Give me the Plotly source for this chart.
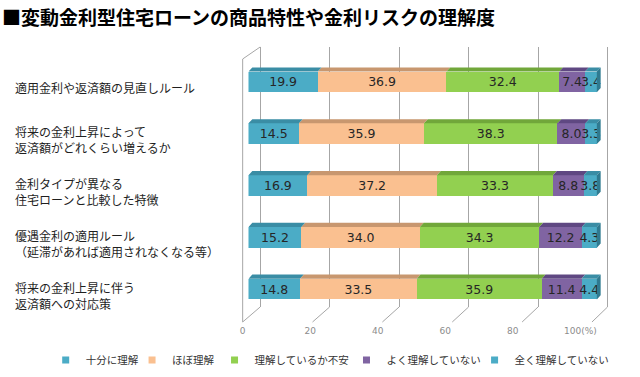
import numpy as np
import plotly.graph_objects as go

# ---------------- data ----------------
categories = [
    "適用金利や返済額の見直しルール",
    "将来の金利上昇によって<br>返済額がどれくらい増えるか",
    "金利タイプが異なる<br>住宅ローンと比較した特徴",
    "優遇金利の適用ルール<br>（延滞があれば適用されなくなる等）",
    "将来の金利上昇に伴う<br>返済額への対応策",
]
series_names = ["十分に理解", "ほぼ理解", "理解しているか不安", "よく理解していない", "全く理解していない"]
fully_understand = [19.9, 14.5, 16.9, 15.2, 14.8]
mostly_understand = [36.9, 35.9, 37.2, 34.0, 33.5]
unsure = [32.4, 38.3, 33.3, 34.3, 35.9]
not_well = [7.4, 8.0, 8.8, 12.2, 11.4]
not_at_all = [3.4, 3.3, 3.8, 4.3, 4.4]
tick_values = [0, 20, 40, 60, 80, 100]
tick_labels = ["0", "20", "40", "60", "80", "100(%)"]
title_text = "■変動金利型住宅ローンの商品特性や金利リスクの理解度"

# ---------------- style ----------------
W, H = 640, 377
face_colors = ["#4BACC6", "#FAC090", "#92D050", "#8064A2", "#4BACC6"]
top_colors = ["#3A8DA5", "#C8976F", "#71A73A", "#5F4882", "#3A8DA5"]
side_color = "#2F7A90"
grid_color = "#A6A6A6"
JP = "Noto Sans CJK JP"
legend_text_px = [81, 170, 255, 391, 523]   # where each legend text starts


def px(x):
    return x / W


def py(y):
    return 1 - y / H


series = [fully_understand, mostly_understand, unsure, not_well, not_at_all]
rows = np.arange(len(categories))
bar_w = 0.4
dx = 1.1      # depth offset (x units)
dy = 0.08     # depth offset (category units)

fig = go.Figure()

# gridline subplot (x / y) - drawn first, underneath
fig.add_trace(go.Scatter(x=[], y=[], xaxis="x", yaxis="y", showlegend=False, hoverinfo="skip"))
# tick-label subplot (x3 / y3)
fig.add_trace(go.Scatter(x=[], y=[], xaxis="x3", yaxis="y3", showlegend=False, hoverinfo="skip"))

# stacked bars (x2 / y2)
cum = np.zeros(len(categories))
for name, vals, fc, tc in zip(series_names, series, face_colors, top_colors):
    vals = np.array(vals)
    fig.add_trace(go.Bar(
        x=vals, y=rows, orientation="h", width=bar_w, name=name,
        marker=dict(color=fc, line=dict(width=0)),
        text=[f"{v:.1f}" for v in vals], textposition="inside", textangle=0,
        insidetextanchor="middle", constraintext="none",
        textfont=dict(family="DejaVu Sans", size=12.5, color="#262626"),
        xaxis="x2", yaxis="y2", showlegend=False, hoverinfo="skip",
    ))
    # top faces (3D look)
    xs, ys = [], []
    for i in rows:
        x0, x1 = cum[i], cum[i] + vals[i]
        yt = i - bar_w / 2
        xs += [x0, x1, x1 + dx, x0 + dx, x0, None]
        ys += [yt, yt, yt - dy, yt - dy, yt, None]
    fig.add_trace(go.Scatter(x=xs, y=ys, fill="toself", fillcolor=tc, mode="lines",
                             line=dict(width=0, color=tc), xaxis="x2", yaxis="y2",
                             showlegend=False, hoverinfo="skip"))
    cum = cum + vals

# right end faces
xs, ys = [], []
for i in rows:
    yt, yb = i - bar_w / 2, i + bar_w / 2
    xs += [cum[i], cum[i] + dx, cum[i] + dx, cum[i], cum[i], None]
    ys += [yt, yt - dy, yb - dy, yb, yt, None]
fig.add_trace(go.Scatter(x=xs, y=ys, fill="toself", fillcolor=side_color, mode="lines",
                         line=dict(width=0, color=side_color), xaxis="x2", yaxis="y2",
                         showlegend=False, hoverinfo="skip"))

# legend entries (one legend box per entry, to match the spacing)
legend_layouts = {}
for k, (name, fc) in enumerate(zip(series_names, face_colors)):
    lname = "legend" if k == 0 else f"legend{k + 1}"
    fig.add_trace(go.Scatter(x=[None], y=[None], mode="markers", name=name,
                             marker=dict(symbol="square", size=7, color=fc),
                             xaxis="x", yaxis="y", legend=lname))
    legend_layouts[lname] = dict(orientation="h", x=px(legend_text_px[k] - 37), xanchor="left",
                                 y=py(360), yanchor="middle", bgcolor="rgba(0,0,0,0)",
                                 font=dict(family=JP, size=10.5, color="#333333"))

# ---------------- decorations (3D frame) ----------------
shapes = [
    dict(type="line", xref="paper", yref="paper", x0=px(247), y0=py(59), x1=px(247), y1=py(322),
         line=dict(color=grid_color, width=1)),
    dict(type="line", xref="paper", yref="paper", x0=px(247), y0=py(59), x1=px(265), y1=py(47),
         line=dict(color=grid_color, width=1)),
]
for k in range(6):
    shapes.append(dict(type="line", xref="paper", yref="paper",
                       x0=px(265 + 71.6 * k), y0=py(307), x1=px(247 + 72 * k), y1=py(322),
                       line=dict(color=grid_color, width=1)))

annotations = []
for i, c in enumerate(categories):
    annotations.append(dict(text=c, xref="paper", yref="y2", x=px(10), y=i, yshift=-6,
                            xanchor="left", yanchor="middle", align="left", showarrow=False,
                            font=dict(family=JP, size=12, color="#1F1F1F")))

bar_scale = 3.59
fig.update_layout(
    width=W, height=H, autosize=False,
    margin=dict(l=0, r=0, t=0, b=0),
    paper_bgcolor="white", plot_bgcolor="rgba(0,0,0,0)",
    barmode="stack",
    title=dict(text="<b>" + title_text + "</b>", x=px(2), xanchor="left",
               xref="container", yref="container", y=py(18), yanchor="middle",
               font=dict(family=JP, size=19, color="#000000")),
    xaxis=dict(domain=[px(265 - 3.58), px(623 + 3.58)], range=[-1, 101], anchor="y",
               tickvals=tick_values, showticklabels=False, ticks="",
               showgrid=True, gridcolor=grid_color, gridwidth=1, zeroline=False, showline=False),
    yaxis=dict(domain=[py(307), py(47)], range=[0, 1], visible=False, showgrid=False),
    xaxis2=dict(domain=[px(253), px(253 + bar_scale * 103)], range=[0, 103], anchor="y2",
                visible=False, showgrid=False, zeroline=False),
    yaxis2=dict(domain=[py(315), py(56)], range=[len(categories) - 0.5, -0.5], anchor="x2",
                visible=False, showgrid=False, zeroline=False),
    xaxis3=dict(domain=[px(247), px(595)], range=[0, 100], anchor="y3",
                tickvals=tick_values, ticktext=tick_labels, ticks="", showgrid=False,
                zeroline=False, showline=False, ticklabelstandoff=2,
                tickfont=dict(family="DejaVu Sans", size=9, color="#8C8C8C")),
    yaxis3=dict(domain=[py(322), py(310)], range=[0, 1], visible=False, showgrid=False),
    shapes=shapes,
    annotations=annotations,
    **legend_layouts,
)

fig.write_html(
    "out.html",
    config={"displayModeBar": False, "responsive": False},
    post_script=(
        "document.documentElement.style.overflow='hidden';"
        "document.body.style.overflow='hidden';"
        "document.body.style.margin='0px';"
    ),
)
